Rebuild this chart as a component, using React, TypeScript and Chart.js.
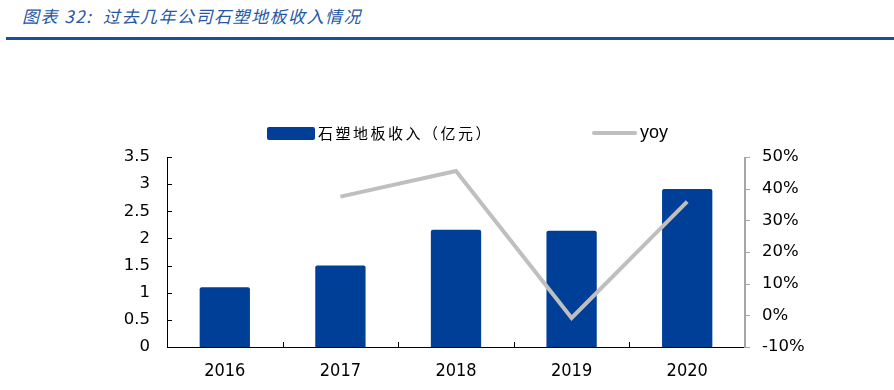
import React, { useEffect, useRef } from "react";
import { Chart, registerables } from "chart.js";

Chart.register(...registerables);

const years = ["2016", "2017", "2018", "2019", "2020"];
const revenue = [1.1, 1.5, 2.16, 2.14, 2.91];
const yoy = [null, 37.5, 45.6, -0.8, 35.9];
const leftTicks = [0, 0.5, 1, 1.5, 2, 2.5, 3, 3.5];
const rightTicks = [-10, 0, 10, 20, 30, 40, 50];

const titleText = "图表 32:  过去几年公司石塑地板收入情况";
const barLabel = "石塑地板收入（亿元）";
const lineLabel = "yoy";

const BAR_COLOR = "#003F98";
const LINE_COLOR = "#BFBFBF";

const axesPlugin = {
  id: "customAxes",
  afterDatasetsDraw(chart: any) {
    const { ctx, chartArea, scales } = chart;
    const { left, right, top, bottom } = chartArea;
    const y = scales.y;
    const y1 = scales.y1;
    const x = scales.x;
    ctx.save();
    ctx.strokeStyle = "#000";
    ctx.lineWidth = 1;
    ctx.beginPath();
    ctx.moveTo(left + 0.5, top);
    ctx.lineTo(left + 0.5, bottom + 1);
    leftTicks.forEach((v) => {
      const py = Math.round(y.getPixelForValue(v)) + 0.5;
      ctx.moveTo(left, py);
      ctx.lineTo(left + 5, py);
    });
    ctx.moveTo(left, Math.round(bottom) + 0.5);
    ctx.lineTo(right, Math.round(bottom) + 0.5);
    for (let i = 1; i < years.length; i++) {
      const px =
        Math.round((x.getPixelForValue(i - 1) + x.getPixelForValue(i)) / 2) + 0.5;
      ctx.moveTo(px, bottom);
      ctx.lineTo(px, bottom - 5);
    }
    ctx.stroke();
    ctx.strokeStyle = "#A6A6A6";
    ctx.lineWidth = 2;
    ctx.beginPath();
    ctx.moveTo(right, top);
    ctx.lineTo(right, bottom + 1);
    ctx.stroke();
    ctx.lineWidth = 1;
    ctx.beginPath();
    rightTicks.forEach((v) => {
      const py = Math.round(y1.getPixelForValue(v)) + 0.5;
      ctx.moveTo(right, py);
      ctx.lineTo(right + 5, py);
    });
    ctx.stroke();
    ctx.restore();
  },
};

export default function App() {
  const canvasRef = useRef<HTMLCanvasElement | null>(null);

  useEffect(() => {
    const canvas = canvasRef.current;
    if (!canvas) return;
    const chart = new Chart(canvas, {
      type: "bar",
      data: {
        labels: years,
        datasets: [
          {
            type: "line",
            label: lineLabel,
            data: yoy as any,
            yAxisID: "y1",
            borderColor: LINE_COLOR,
            backgroundColor: LINE_COLOR,
            borderWidth: 4,
            pointRadius: 0,
            pointHoverRadius: 0,
            tension: 0,
            spanGaps: false,
            order: 0,
          } as any,
          {
            type: "bar",
            label: barLabel,
            data: revenue,
            yAxisID: "y",
            backgroundColor: BAR_COLOR,
            borderRadius: 2,
            borderSkipped: "bottom",
            categoryPercentage: 1,
            barPercentage: 0.435,
            order: 1,
          } as any,
        ],
      },
      options: {
        responsive: false,
        animation: false,
        events: [],
        layout: { padding: { top: 157, left: 0, right: 0, bottom: 0 } },
        plugins: {
          legend: { display: false },
          title: { display: false },
          tooltip: { enabled: false },
        },
        scales: {
          x: {
            grid: { display: false, drawTicks: false },
            border: { display: false },
            ticks: {
              color: "#000",
              padding: 14,
              font: { family: "'DejaVu Sans Condensed', 'DejaVu Sans'", size: 18 },
            },
            afterFit: (s: any) => {
              s.height = 43;
            },
          },
          y: {
            position: "left",
            min: 0,
            max: 3.5,
            grid: { display: false, drawTicks: false },
            border: { display: false },
            afterBuildTicks: (s: any) => {
              s.ticks = leftTicks.map((v) => ({ value: v }));
            },
            ticks: {
              color: "#000",
              padding: 17,
              font: { family: "'DejaVu Sans'", size: 16.5 },
              callback: (v: any) => String(v),
            },
            afterFit: (s: any) => {
              s.width = 167;
            },
          },
          y1: {
            position: "right",
            min: -10,
            max: 50,
            grid: { display: false, drawTicks: false },
            border: { display: false },
            afterBuildTicks: (s: any) => {
              s.ticks = rightTicks.map((v) => ({ value: v }));
            },
            ticks: {
              color: "#000",
              padding: 17,
              font: { family: "'DejaVu Sans'", size: 16.5 },
              callback: (v: any) => v + "%",
            },
            afterFit: (s: any) => {
              s.width = 149;
            },
          },
        },
      },
      plugins: [axesPlugin],
    });
    return () => chart.destroy();
  }, []);

  return (
    <div
      style={{
        position: "fixed",
        left: 0,
        top: 0,
        width: 894,
        height: 390,
        background: "#fff",
        overflow: "hidden",
      }}
    >
      <div
        style={{
          position: "absolute",
          left: 22,
          top: 5,
          fontFamily: "'Noto Sans CJK SC', sans-serif",
          fontStyle: "italic",
          fontSize: 17,
          letterSpacing: 1.5,
          lineHeight: "22px",
          color: "#2457A6",
          whiteSpace: "pre",
        }}
      >
        {titleText}
      </div>
      <div
        style={{
          position: "absolute",
          left: 6,
          top: 37,
          width: 888,
          height: 3,
          background: "#1A4F9C",
        }}
      />
      <canvas
        ref={canvasRef}
        width={894}
        height={390}
        style={{ position: "absolute", left: 0, top: 0, width: 894, height: 390 }}
      />
      <div
        style={{
          position: "absolute",
          left: 267,
          top: 127,
          width: 48,
          height: 13,
          background: BAR_COLOR,
          borderRadius: 2,
        }}
      />
      <div
        style={{
          position: "absolute",
          left: 318,
          top: 122,
          fontFamily: "'Noto Sans CJK SC', sans-serif",
          fontSize: 15,
          letterSpacing: 2.5,
          lineHeight: "22px",
          color: "#000",
          whiteSpace: "pre",
        }}
      >
        {barLabel}
      </div>
      <div
        style={{
          position: "absolute",
          left: 592,
          top: 131,
          width: 45,
          height: 4,
          background: LINE_COLOR,
          borderRadius: 2,
        }}
      />
      <div
        style={{
          position: "absolute",
          left: 640,
          top: 121,
          fontFamily: "'Liberation Sans', sans-serif",
          fontSize: 18,
          lineHeight: "22px",
          color: "#000",
          whiteSpace: "pre",
        }}
      >
        {lineLabel}
      </div>
    </div>
  );
}
